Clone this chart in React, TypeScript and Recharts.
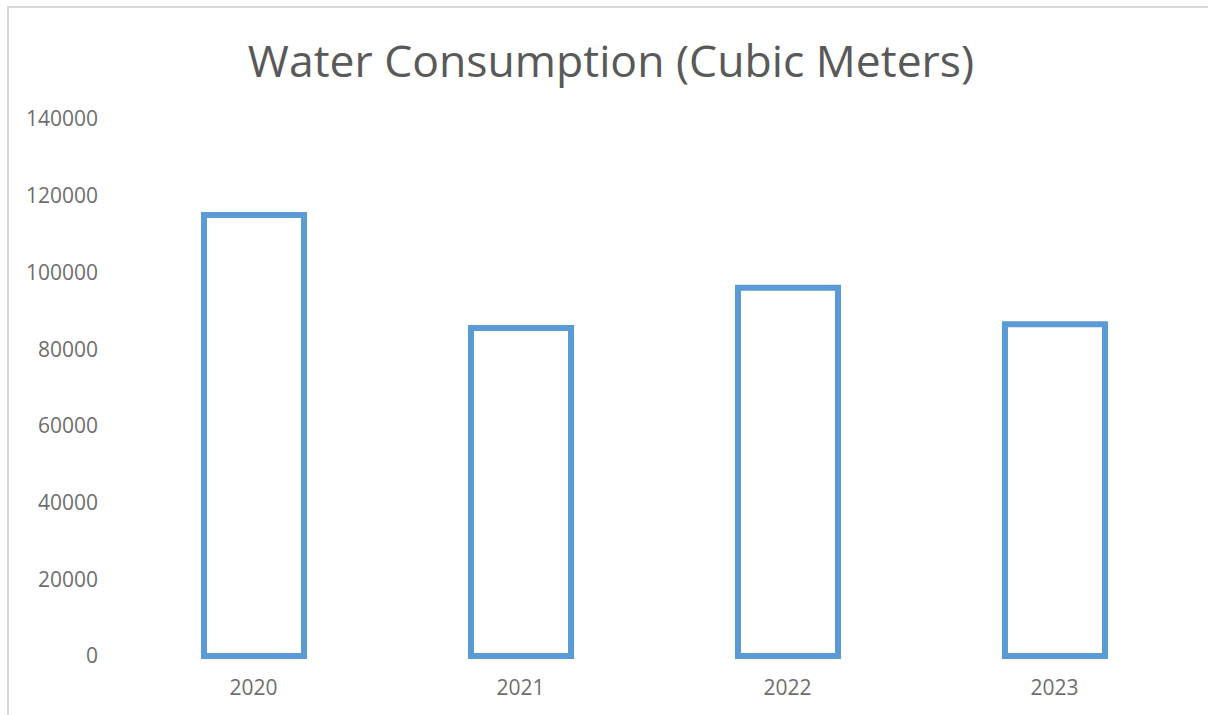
import React from 'react';
import { BarChart, Bar, XAxis, YAxis } from 'recharts';

const years = ['2020', '2021', '2022', '2023'];
const consumption = [115000, 85500, 96000, 86500];
const yTicks = [0, 20000, 40000, 60000, 80000, 100000, 120000, 140000];

const data = years.map((year, i) => ({ year, value: consumption[i] }));

const FONT = '"Open Sans", "Noto Sans", sans-serif';
const TITLE = '#595959';
const TICK = '#6e6e6e';

export default function App() {
  return (
    <div
      style={{
        position: 'absolute',
        left: 0,
        top: 0,
        width: 1208,
        height: 715,
        overflow: 'hidden',
        background: '#fff',
        fontFamily: FONT,
      }}
    >
      {/* chart frame, runs off the right and bottom edges */}
      <div
        style={{
          position: 'absolute',
          left: 7,
          top: 6,
          width: 1240,
          height: 740,
          border: '2px solid #d9d9d9',
          boxSizing: 'border-box',
        }}
      />
      <div
        style={{
          position: 'absolute',
          left: 0,
          width: 1222,
          top: 30,
          textAlign: 'center',
          fontSize: 44.5,
          color: TITLE,
          lineHeight: '60px',
        }}
      >
        Water Consumption (Cubic Meters)
      </div>
      <div style={{ position: 'absolute', left: 0, top: 0 }}>
        <BarChart
          width={1208}
          height={715}
          data={data}
          margin={{ top: 119, right: 20, left: 0, bottom: 29 }}
          barCategoryGap="31%"
        >
          <XAxis
            dataKey="year"
            axisLine={false}
            tickLine={false}
            tickMargin={18}
            tick={{ fill: TICK, fontSize: 21, fontFamily: FONT }}
          />
          <YAxis
            width={120}
            domain={[0, 140000]}
            ticks={yTicks}
            axisLine={false}
            tickLine={false}
            tickMargin={16}
            tick={{ fill: TICK, fontSize: 21, fontFamily: FONT }}
          />
          <Bar
            dataKey="value"
            fill="#ffffff"
            stroke="#5b9bd5"
            strokeWidth={6}
            barSize={100}
            isAnimationActive={false}
          />
        </BarChart>
      </div>
    </div>
  );
}
